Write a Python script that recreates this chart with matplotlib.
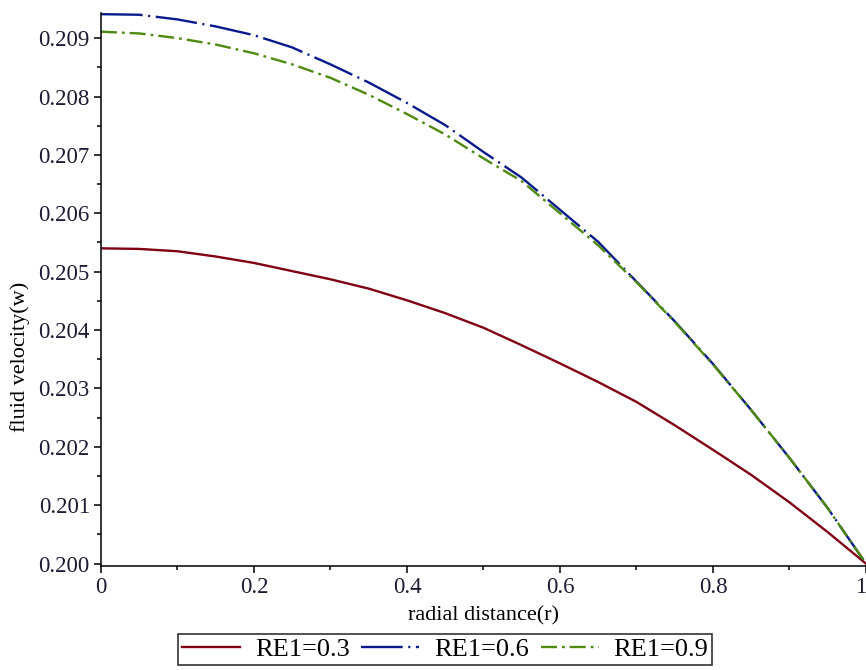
import matplotlib
matplotlib.use("Agg")
import matplotlib.pyplot as plt
from matplotlib.ticker import MultipleLocator, FormatStrFormatter

# radial positions
r = [0.0, 0.05, 0.1, 0.15, 0.2, 0.25, 0.3, 0.35, 0.4, 0.45, 0.5,
     0.55, 0.6, 0.65, 0.7, 0.75, 0.8, 0.85, 0.9, 0.95, 1.0]

# fluid velocity for each RE1
w_re03 = [0.20540, 0.20539, 0.20535, 0.20526, 0.20515, 0.20501, 0.20487,
          0.20471, 0.20451, 0.20429, 0.20404, 0.20374, 0.20343, 0.20311,
          0.20277, 0.20237, 0.20195, 0.20152, 0.20105, 0.20054, 0.20000]
w_re06 = [0.20941, 0.20940, 0.20932, 0.20920, 0.20905, 0.20884, 0.20855,
          0.20824, 0.20789, 0.20751, 0.20705, 0.20661, 0.20606, 0.20551,
          0.20483, 0.20415, 0.20342, 0.20263, 0.20181, 0.20095, 0.20000]
w_re09 = [0.20911, 0.20908, 0.20900, 0.20889, 0.20874, 0.20855, 0.20832,
          0.20803, 0.20770, 0.20735, 0.20694, 0.20655, 0.20600, 0.20545,
          0.20482, 0.20414, 0.20341, 0.20263, 0.20181, 0.20095, 0.20000]

labels = ["RE1=0.3", "RE1=0.6", "RE1=0.9"]
xticks = [0, 0.2, 0.4, 0.6, 0.8, 1]
xticklabels = ["0", "0.2", "0.4", "0.6", "0.8", "1"]

plt.rcParams['font.family'] = ['Liberation Serif', 'DejaVu Serif']
plt.rcParams['lines.scale_dashes'] = False

fig = plt.figure(figsize=(8.66, 6.70), dpi=100)
ax = fig.add_axes([0.1166, 0.1552, 0.8834, 0.8254])

ax.plot(r, w_re03, color='#800014', lw=1.7, label=labels[0])
ax.plot(r, w_re06, color='#0a1a8c', lw=1.7, label=labels[1],
        dashes=(30, 4, 1.5, 4))
ax.plot(r, w_re09, color='#4f8a10', lw=1.7, label=labels[2],
        dashes=(11.5, 3.6, 2, 3.6))

ax.set_xlim(0, 1)
ax.set_ylim(0.19996, 0.20943)

for s in ['top', 'right']:
    ax.spines[s].set_visible(False)
for s in ['left', 'bottom']:
    ax.spines[s].set_linewidth(1.1)

ax.set_xticks(xticks)
ax.set_xticklabels(xticklabels)
ax.xaxis.set_minor_locator(MultipleLocator(0.1))
ax.yaxis.set_major_locator(MultipleLocator(0.001))
ax.yaxis.set_minor_locator(MultipleLocator(0.0005))
ax.yaxis.set_major_formatter(FormatStrFormatter('%.3f'))
ax.tick_params(which='major', length=5, width=1.1, labelsize=16.5,
               labelcolor='#1c1c34', direction='out', pad=3)
ax.tick_params(which='minor', length=3, width=1.1, direction='out')
# last x label sits on the figure edge; keep it inside
ax.get_xticklabels()[-1].set_horizontalalignment('right')

ax.set_xlabel('radial distance(r)', fontsize=16)
ax.xaxis.set_label_coords(0.5, -0.072)
ax.set_ylabel('fluid velocity(w)', fontsize=16)
ax.yaxis.set_label_coords(-0.093, 0.378)

leg = fig.legend(loc='upper center', bbox_to_anchor=(0.514, 0.054),
                 ncol=3, fontsize=19, frameon=True, fancybox=False,
                 handlelength=2.2, handletextpad=0.55, columnspacing=0.45,
                 borderpad=0.15, borderaxespad=0)
leg.get_frame().set_edgecolor('black')
leg.get_frame().set_linewidth(1.2)

fig.savefig('out.png', dpi=100)
